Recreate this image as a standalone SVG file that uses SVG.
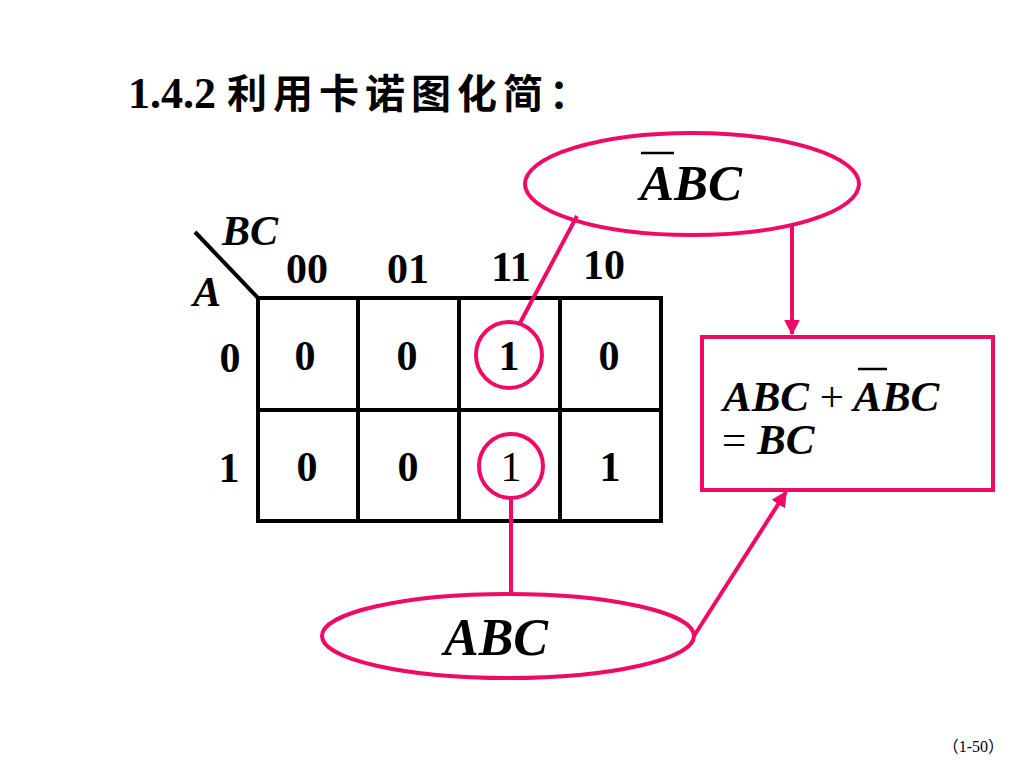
<svg xmlns="http://www.w3.org/2000/svg" width="1024" height="768" viewBox="0 0 1024 768">
<defs>
<style>
.t{font-family:"Liberation Serif","Times New Roman",serif;font-weight:bold;fill:#000}
.i{font-style:italic}
.cjk{font-family:"Noto Sans CJK SC","Liberation Serif",sans-serif;font-weight:bold}
.grid{stroke:#000;stroke-width:4;fill:none}
.pk{stroke:#EE0A66;stroke-width:4;fill:none}
.bar{stroke:#000;stroke-width:2.5}
.foot{font-family:"Liberation Serif","Noto Sans CJK SC",serif;font-weight:normal;fill:#000}
.fp{font-family:"Noto Sans CJK SC",sans-serif;font-weight:normal}
</style>
<marker id="ah" viewBox="0 0 10 10" refX="9" refY="5" markerWidth="4" markerHeight="4" orient="auto" markerUnits="strokeWidth">
<path d="M0,0 L10,5 L0,10 z" fill="#EE0A66"/>
</marker>
</defs>
<rect width="1024" height="768" fill="#fff"/>
<g id="title">
<text x="128" y="108" class="t" font-size="44">1.4.2 <tspan class="cjk" font-size="40" letter-spacing="6">利用卡诺图化简</tspan><tspan class="cjk" font-size="40">：</tspan></text>
</g>
<g id="kmap">
<line x1="195" y1="232" x2="258" y2="298" class="grid"/>
<rect x="258" y="298" width="403" height="223" class="grid"/>
<line x1="358" y1="298" x2="358" y2="521" class="grid"/>
<line x1="459" y1="298" x2="459" y2="521" class="grid"/>
<line x1="560" y1="298" x2="560" y2="521" class="grid"/>
<line x1="258" y1="410" x2="661" y2="410" class="grid"/>
<text x="222" y="245" class="t i" font-size="42">BC</text>
<text x="193" y="306" class="t i" font-size="42">A</text>
<g font-size="42" class="t" text-anchor="middle">
<text x="307" y="283">00</text>
<text x="408" y="283">01</text>
<text x="511" y="281">11</text>
<text x="604" y="279">10</text>
<text x="230" y="372">0</text>
<text x="229" y="482">1</text>
<text x="305" y="370">0</text>
<text x="407" y="370">0</text>
<text x="509" y="370">1</text>
<text x="609" y="370">0</text>
<text x="307" y="481">0</text>
<text x="408" y="481">0</text>
<text x="511" y="481" font-weight="normal">1</text>
<text x="610" y="481">1</text>
</g>
</g>
<g id="circle-top"><circle cx="509" cy="355" r="33" class="pk"/></g>
<g id="circle-bottom"><circle cx="511" cy="466" r="32" class="pk"/></g>
<g id="ellipse-top">
<ellipse cx="692" cy="184" rx="167" ry="51" class="pk"/>
<text x="640" y="200" class="t i" font-size="51">ABC</text>
<line x1="641" y1="153" x2="674" y2="153" class="bar"/>
</g>
<g id="ellipse-bottom">
<ellipse cx="508" cy="636" rx="186" ry="42" class="pk"/>
<text x="444" y="655" class="t i" font-size="52">ABC</text>
</g>
<g id="result-box">
<rect x="702" y="337" width="291" height="153" class="pk"/>
<text x="723" y="411" class="t i" font-size="43">ABC <tspan font-style="normal" font-weight="normal">+</tspan> ABC</text>
<line x1="858" y1="369" x2="887" y2="369" class="bar"/>
<text x="722" y="454" class="t" font-size="43"><tspan font-weight="normal">=</tspan> <tspan class="i">BC</tspan></text>
</g>
<g id="connectors">
<line x1="577" y1="216" x2="520" y2="323" class="pk"/>
<line x1="792" y1="225" x2="792" y2="334" class="pk" marker-end="url(#ah)"/>
<line x1="511" y1="498" x2="511" y2="595" class="pk"/>
<line x1="694" y1="636" x2="786" y2="492" class="pk" marker-end="url(#ah)"/>
</g>
<text x="1004" y="752" class="foot" font-size="16" text-anchor="end"><tspan class="fp">（</tspan>1-50<tspan class="fp">）</tspan></text>
</svg>
